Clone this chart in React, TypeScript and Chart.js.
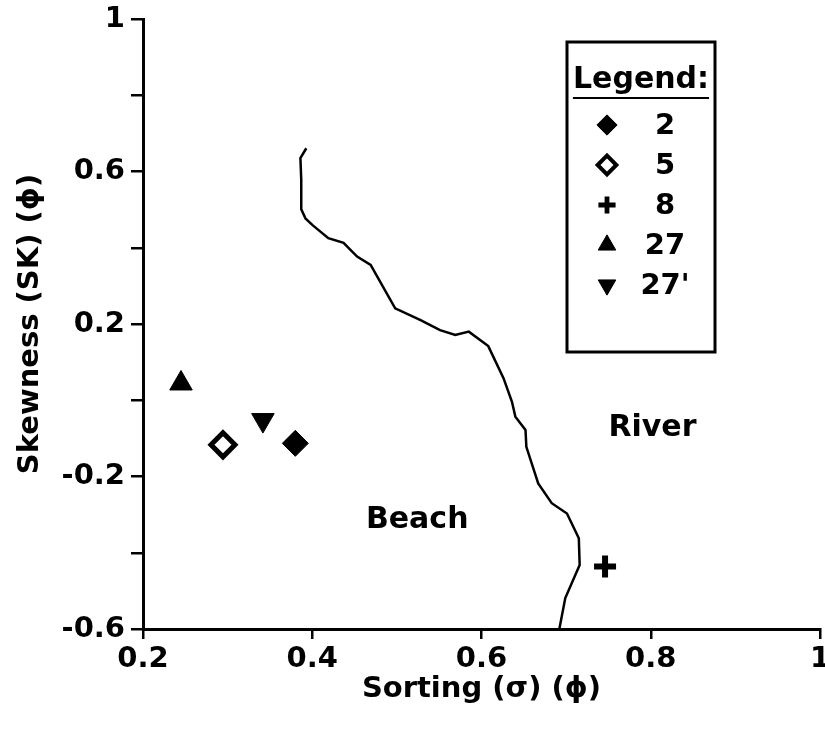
import React, { useEffect, useRef } from "react";
import { Chart, registerables } from "chart.js";
import { drawPoint } from "chart.js/helpers";

Chart.register(...registerables);

// ---- data ----
const SERIES_NAMES = ["2", "5", "8", "27", "27'"];
const SORTING = [0.38, 0.2945, 0.746, 0.2449, 0.3417];
const SKEWNESS = [-0.113, -0.117, -0.436, 0.044, -0.052];

const BOUNDARY_X = [0.393, 0.386, 0.387, 0.387, 0.392, 0.4, 0.419, 0.437, 0.453, 0.469, 0.498, 0.528, 0.551, 0.569, 0.585, 0.608, 0.626, 0.636, 0.64, 0.652, 0.653, 0.667, 0.683, 0.701, 0.715, 0.716, 0.699, 0.692];
const BOUNDARY_Y = [0.661, 0.635, 0.578, 0.501, 0.477, 0.46, 0.425, 0.413, 0.377, 0.355, 0.241, 0.21, 0.184, 0.171, 0.18, 0.142, 0.058, -0.004, -0.043, -0.078, -0.122, -0.218, -0.27, -0.297, -0.362, -0.432, -0.519, -0.6];

const REGION_LABELS = ["River", "Beach"];
const REGION_X = [0.802, 0.524];
const REGION_Y = [-0.073, -0.314];

const X_MIN = 0.2, X_MAX = 1, Y_MIN = -0.6, Y_MAX = 1, STEP = 0.2;

// ---- styles ----
const FONT = "'DejaVu Sans', sans-serif";
const MARKERS = [
  { pointStyle: "rectRot", radius: 13, rotation: 0, fill: "#000", borderWidth: 1 },
  { pointStyle: "rectRot", radius: 12, rotation: 0, fill: "#fff", borderWidth: 5 },
  { pointStyle: "cross", radius: 11, rotation: 0, fill: "#000", borderWidth: 6 },
  { pointStyle: "triangle", radius: 13, rotation: 0, fill: "#000", borderWidth: 1 },
  { pointStyle: "triangle", radius: 13, rotation: 180, fill: "#000", borderWidth: 1 },
];

const overlayPlugin = {
  id: "overlay",
  afterDatasetsDraw(chart: any) {
    const { ctx, scales } = chart;
    ctx.save();
    ctx.fillStyle = "#000";
    ctx.textAlign = "center";
    ctx.textBaseline = "middle";
    ctx.font = `bold 30px ${FONT}`;
    REGION_LABELS.forEach((t, i) => {
      ctx.fillText(t, scales.x.getPixelForValue(REGION_X[i]), scales.y.getPixelForValue(REGION_Y[i]));
    });

    // legend box
    const bx = 567, by = 42, bw = 148, bh = 310;
    ctx.lineWidth = 3;
    ctx.strokeStyle = "#000";
    ctx.strokeRect(bx, by, bw, bh);
    ctx.font = `bold 30px ${FONT}`;
    const title = "Legend:";
    ctx.fillText(title, bx + bw / 2, 80);
    const tw = ctx.measureText(title).width;
    ctx.lineWidth = 2;
    ctx.beginPath();
    ctx.moveTo(bx + bw / 2 - tw / 2, 98);
    ctx.lineTo(bx + bw / 2 + tw / 2, 98);
    ctx.stroke();

    ctx.font = `bold 29px ${FONT}`;
    SERIES_NAMES.forEach((name, i) => {
      const y = 125 + 40 * i;
      const m = MARKERS[i];
      ctx.fillStyle = m.fill;
      ctx.strokeStyle = "#000";
      const bwid = Math.max(1, m.borderWidth * 0.8);
      ctx.lineWidth = bwid;
      drawPoint(ctx, { pointStyle: m.pointStyle, rotation: m.rotation, radius: m.radius * 0.78, borderWidth: bwid }, 607, y);
      ctx.fillStyle = "#000";
      ctx.fillText(name, 665, y + 1);
    });
    ctx.restore();
  },
};

export default function App() {
  const ref = useRef<HTMLCanvasElement | null>(null);
  useEffect(() => {
    if (!ref.current) return;
    const datasets: any[] = [
      {
        label: "boundary",
        data: BOUNDARY_X.map((x, i) => ({ x, y: BOUNDARY_Y[i] })),
        showLine: true,
        borderColor: "#000",
        borderWidth: 2.5,
        pointRadius: 0,
        fill: false,
        tension: 0,
      },
      ...SERIES_NAMES.map((name, i) => ({
        label: name,
        data: [{ x: SORTING[i], y: SKEWNESS[i] }],
        pointStyle: MARKERS[i].pointStyle,
        rotation: MARKERS[i].rotation,
        pointRadius: MARKERS[i].radius,
        pointBackgroundColor: MARKERS[i].fill,
        pointBorderColor: "#000",
        pointBorderWidth: MARKERS[i].borderWidth,
        showLine: false,
      })),
    ];
    const tickFont = { family: FONT, size: 29, weight: "bold" as const };
    const chart = new Chart(ref.current, {
      type: "scatter",
      data: { datasets },
      options: {
        responsive: false,
        animation: false,
        devicePixelRatio: 1,
        layout: { autoPadding: false, padding: { top: 19, right: 5, bottom: 0, left: 0 } },
        plugins: { legend: { display: false }, tooltip: { enabled: false } },
        scales: {
          x: {
            type: "linear",
            min: X_MIN,
            max: X_MAX,
            ticks: {
              stepSize: STEP,
              color: "#000",
              font: tickFont,
              padding: 3,
              autoSkip: false,
              maxRotation: 0,
              callback: (v: any) => String(+Number(v).toFixed(1)),
            },
            grid: { drawOnChartArea: false, drawTicks: true, tickLength: 10, color: "#000", lineWidth: 2.5 },
            border: { display: true, color: "#000", width: 3 },
            title: {
              display: true,
              text: "Sorting (σ) (ϕ)",
              color: "#000",
              font: tickFont,
              padding: { top: 0, bottom: 35 },
            },
            afterFit: (s: any) => {
              s.height = 113;
              s.paddingLeft = 0;
              s.paddingRight = 0;
            },
          },
          y: {
            type: "linear",
            min: Y_MIN,
            max: Y_MAX,
            ticks: {
              stepSize: STEP,
              color: "#000",
              font: tickFont,
              padding: 6,
              autoSkip: false,
              callback: (v: any, idx: number) => (idx % 2 === 0 ? String(+Number(v).toFixed(1)) : ""),
            },
            grid: { drawOnChartArea: false, drawTicks: true, tickLength: 12, color: "#000", lineWidth: 2.5 },
            border: { display: true, color: "#000", width: 3 },
            title: {
              display: true,
              text: "Skewness (SK) (ϕ)",
              color: "#000",
              font: tickFont,
              padding: { top: 13, bottom: 0 },
            },
            afterFit: (s: any) => {
              s.width = 143;
              s.paddingTop = 0;
              s.paddingBottom = 0;
            },
          },
        },
      },
      plugins: [overlayPlugin],
    });
    return () => chart.destroy();
  }, []);
  return (
    <div style={{ position: "absolute", left: 0, top: 0, width: 825, height: 742, background: "#fff" }}>
      <canvas ref={ref} width={825} height={742} style={{ width: 825, height: 742, display: "block" }} />
    </div>
  );
}
